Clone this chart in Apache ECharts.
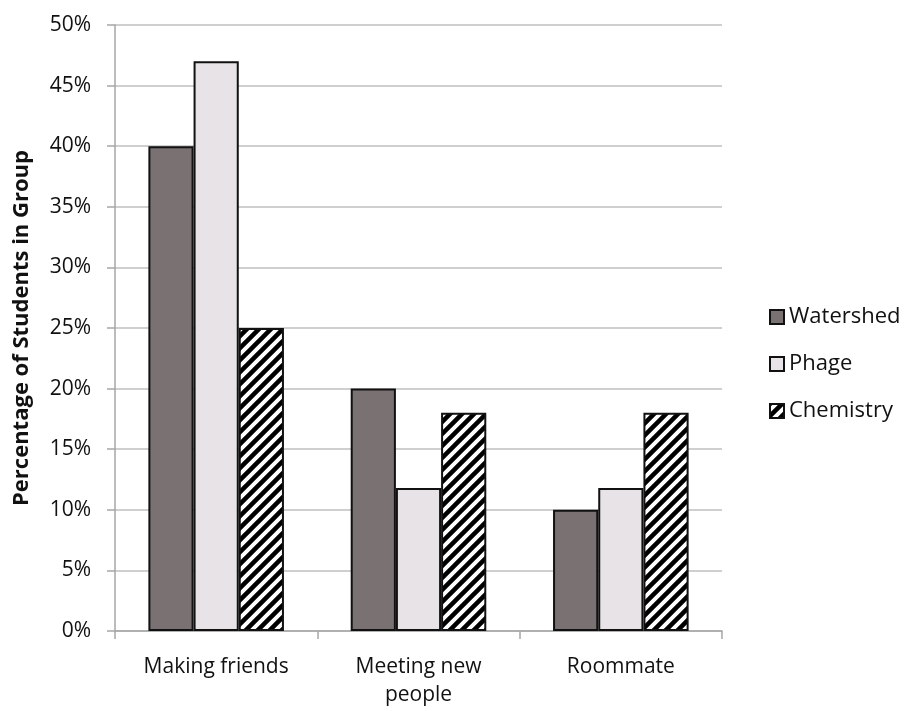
<!DOCTYPE html>
<html><head><meta charset="utf-8">
<script src="https://cdn.jsdelivr.net/npm/echarts@6/dist/echarts.min.js"></script>
<style>html,body{margin:0;padding:0;background:#fff}#c{width:906px;height:711px}</style>
</head><body><div id="c"></div>
<script>
const categories = ['Making friends', 'Meeting new\npeople', 'Roommate'];
const watershed = [40, 20, 10];
const phage = [47, 11.8, 11.8];
const chemistry = [25, 18, 18];
const yTicks = [0, 5, 10, 15, 20, 25, 30, 35, 40, 45, 50];

function hatch() {
  const s = 12;
  const c = document.createElement('canvas');
  c.width = s; c.height = s;
  const g = c.getContext('2d');
  g.fillStyle = '#fff'; g.fillRect(0, 0, s, s);
  g.strokeStyle = '#000'; g.lineWidth = 4.5;
  g.beginPath();
  g.moveTo(-s, 2 * s); g.lineTo(2 * s, -s);
  g.moveTo(-2 * s, 2 * s); g.lineTo(s, -s);
  g.moveTo(0, 2 * s); g.lineTo(3 * s, -s);
  g.stroke();
  return c;
}
const font = 'Open Sans';
const chart = echarts.init(document.getElementById('c'));
chart.setOption({
  animation: false,
  textStyle: { fontFamily: font },
  grid: { left: 115, right: 184, top: 25, bottom: 80, containLabel: false, outerBoundsMode: 'none' },
  legend: {
    orient: 'vertical', left: 764, top: 301, itemGap: 25,
    itemWidth: 14, itemHeight: 14, icon: 'rect',
    textStyle: { fontSize: 22, color: '#111', fontFamily: font },
    data: ['Watershed', 'Phage', 'Chemistry']
  },
  xAxis: {
    type: 'category', data: categories,
    axisLine: { lineStyle: { color: '#a6a6a6', width: 1.5 } },
    axisTick: { show: true, length: 8, alignWithLabel: false, lineStyle: { color: '#a6a6a6', width: 1.5 } },
    axisLabel: { fontSize: 21, color: '#111', margin: 22, lineHeight: 28, fontFamily: font }
  },
  yAxis: {
    type: 'value', min: 0, max: 50, interval: 5,
    name: 'Percentage of Students in Group', nameLocation: 'middle', nameGap: 82,
    nameTextStyle: { fontSize: 22, fontWeight: 'bold', color: '#111', fontFamily: font },
    axisLine: { show: true, lineStyle: { color: '#a6a6a6', width: 1.5 } },
    axisTick: { show: true, length: 8, inside: false, lineStyle: { color: '#a6a6a6', width: 1.5 } },
    splitLine: { lineStyle: { color: '#bfbfbf', width: 1.5 } },
    axisLabel: { fontSize: 21, color: '#111', margin: 24, formatter: v => yTicks.includes(v) ? v + '%' : '', fontFamily: font }
  },
  series: [
    { name: 'Watershed', type: 'bar', data: watershed, barGap: '0%', barCategoryGap: '33%',
      itemStyle: { color: '#7a7272', borderColor: '#111', borderWidth: 2 } },
    { name: 'Phage', type: 'bar', data: phage, barGap: '0%', barCategoryGap: '33%',
      itemStyle: { color: '#e8e3e6', borderColor: '#111', borderWidth: 2 } },
    { name: 'Chemistry', type: 'bar', data: chemistry, barGap: '0%', barCategoryGap: '33%',
      itemStyle: { color: { image: hatch(), repeat: 'repeat' }, borderColor: '#111', borderWidth: 2 } }
  ]
});
</script></body></html>
